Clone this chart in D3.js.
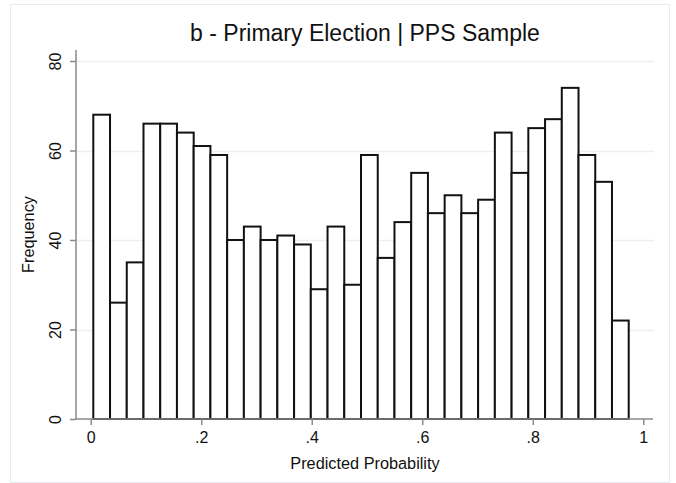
<!DOCTYPE html>
<html>
<head>
<meta charset="utf-8">
<script src="https://cdn.jsdelivr.net/npm/d3@7"></script>
<style>
 body { margin: 0; background: #fff; }
 svg { display: block; font-family: "Liberation Sans", Arial, sans-serif; }
</style>
</head>
<body>
<svg id="chart" width="676" height="483"></svg>
<script>
 // histogram bins: 32 bins from min to max of predicted probability
 var binStart = 0.0047;
 var binEnd = 0.9736;
 var counts = [68, 26, 35, 66, 66, 64, 61, 59, 40, 43, 40, 41, 39, 29, 43, 30,
               59, 36, 44, 55, 46, 50, 46, 49, 64, 55, 65, 67, 74, 59, 53, 22];
 var xTicks = [0, 0.2, 0.4, 0.6, 0.8, 1];
 var xTickLabels = ["0", ".2", ".4", ".6", ".8", "1"];
 var yTicks = [0, 20, 40, 60, 80];

 var svg = d3.select("#chart");

 // plot region
 var plot = {left: 76, right: 654, top: 50, bottom: 419};

 var x = d3.scaleLinear().domain([0, 1]).range([90.7, 643.3]);
 var y = d3.scaleLinear().domain([0, 80]).range([419, 61]);

 var binW = (binEnd - binStart) / counts.length;
 var bins = counts.map(function(c, i){
     return {x0: binStart + i * binW, x1: binStart + (i + 1) * binW, n: c};
 });

 // faint outer frame
 svg.append("rect")
    .attr("x", 10.5).attr("y", 4.5)
    .attr("width", 659).attr("height", 478)
    .attr("fill", "none").attr("stroke", "#e6ecee").attr("stroke-width", 1);

 // gridlines
 svg.append("g").selectAll("line")
    .data(yTicks.filter(function(d){ return d > 0; }))
    .join("line")
    .attr("x1", plot.left).attr("x2", plot.right)
    .attr("y1", function(d){ return Math.round(y(d)) + 0.5; })
    .attr("y2", function(d){ return Math.round(y(d)) + 0.5; })
    .attr("stroke", "#e9f1f3").attr("stroke-width", 1.5);

 // bars
 svg.append("g").selectAll("rect")
    .data(bins)
    .join("rect")
    .attr("x", function(d){ return x(d.x0); })
    .attr("y", function(d){ return y(d.n); })
    .attr("width", function(d){ return x(d.x1) - x(d.x0); })
    .attr("height", function(d){ return y(0) - y(d.n); })
    .attr("fill", "#fff")
    .attr("stroke", "#111")
    .attr("stroke-width", 2);

 // y axis
 var yAxis = d3.axisLeft(y).tickValues(yTicks).tickSize(6).tickFormat(d3.format("d"));
 var gy = svg.append("g").attr("transform", "translate(" + plot.left + ",0)").call(yAxis);
 gy.select(".domain").remove();
 gy.append("line")
   .attr("x1", 0).attr("x2", 0)
   .attr("y1", plot.top).attr("y2", plot.bottom);
 gy.selectAll("line").attr("stroke", "#8a8a8a").attr("stroke-width", 1.5);
 gy.selectAll(".tick text")
   .attr("transform", "translate(-15,0) rotate(-90)")
   .attr("x", 0).attr("y", 0).attr("dy", 0)
   .attr("text-anchor", "middle")
   .attr("font-size", 16).attr("fill", "#111");

 // x axis
 var xAxis = d3.axisBottom(x).tickValues(xTicks).tickSize(6)
     .tickFormat(function(d, i){ return xTickLabels[i]; });
 var gx = svg.append("g").attr("transform", "translate(0," + plot.bottom + ")").call(xAxis);
 gx.select(".domain").remove();
 gx.append("line")
   .attr("x1", plot.left).attr("x2", 653)
   .attr("y1", 0).attr("y2", 0);
 gx.selectAll("line").attr("stroke", "#8a8a8a").attr("stroke-width", 1.5);
 gx.selectAll(".tick text")
   .attr("y", 24).attr("dy", 0)
   .attr("font-size", 16).attr("fill", "#111");

 // titles
 svg.append("text")
    .attr("x", (plot.left + plot.right) / 2).attr("y", 41)
    .attr("text-anchor", "middle")
    .attr("font-size", 23).attr("fill", "#111")
    .text("b - Primary Election | PPS Sample");

 svg.append("text")
    .attr("x", (plot.left + plot.right) / 2).attr("y", 469)
    .attr("text-anchor", "middle")
    .attr("font-size", 16.3).attr("fill", "#111")
    .text("Predicted Probability");

 svg.append("text")
    .attr("transform", "translate(34," + (plot.top + plot.bottom) / 2 + ") rotate(-90)")
    .attr("text-anchor", "middle")
    .attr("font-size", 16.3).attr("fill", "#111")
    .text("Frequency");
</script>
</body>
</html>
